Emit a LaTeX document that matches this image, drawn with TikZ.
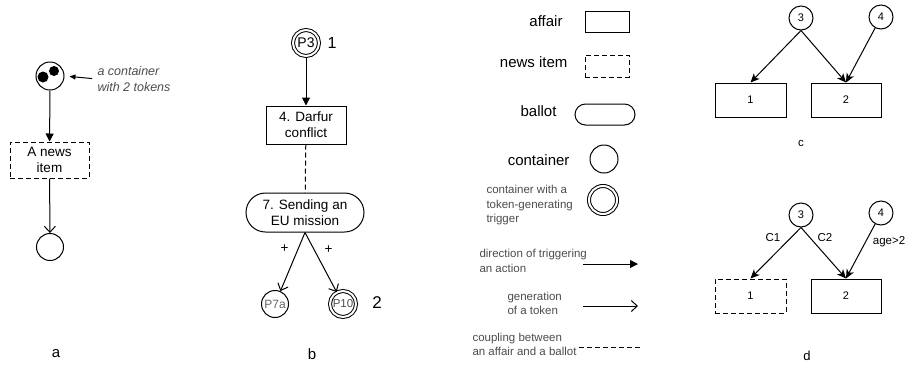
\documentclass[tikz,border=0pt]{standalone}
\usepackage{fontspec}
\setmainfont{Liberation Sans}
\usetikzlibrary{arrows.meta,shapes.misc}
\newcommand{\fsz}[2]{\fontsize{#1}{#2}\selectfont}

\begin{document}
\begin{tikzpicture}[x=1pt, y=-1pt, line width=1pt,
        every node/.style={inner sep=0pt, font=\fsz{13.5}{16}},
        affair/.style={draw, rectangle, align=center},
        newsitem/.style={draw, rectangle, dash pattern=on 5pt off 3pt, align=center},
        ballot/.style={draw, rounded rectangle, align=center},
        container/.style={draw, circle, minimum size=27pt},
        trigcontainer/.style={container, minimum size=26pt, double, double distance=2pt},
        trig/.style={-{Triangle[length=8pt, width=8pt]}},
        gen/.style={-{Straight Barb[length=6pt, width=11pt]}},
        cond/.style={-{Stealth[length=9pt, width=8pt, inset=2.5pt]}},
        coupling/.style={dash pattern=on 5pt off 3pt},
        note/.style={align=left, text=black!70, font=\fsz{11.5}{14.5}}]
        \useasboundingbox (0,0) rectangle (906,365);

        % a
        \node[container, minimum size=28pt] (tokens) at (50,76) {};
        \fill ([shift={(-7,1)}]tokens.center) circle[radius=5.5pt];
        \fill ([shift={(4,-5)}]tokens.center) circle[radius=5pt];
        \node[note, anchor=west, font=\fsz{12.5}{16}\itshape] (hint) at (97,79) {a container\\with 2 tokens};
        \draw[-{Triangle[length=6pt, width=5pt]}, shorten <=5pt, shorten >=5pt] (hint.west) -- (tokens.east);
        \node[newsitem, minimum width=79pt, minimum height=36pt] (news) at (49.5,160) {A news\\item};
        \node[container] (sink) at (50,247) {};
        \draw[trig] (tokens) -- (news);
        \draw[gen] (news) -- (sink);
        \node[font=\fsz{15}{18}] (capa) at (56,354) {a};

        % b
        \node[trigcontainer, font=\fsz{14}{16}] (pthree) at (306,43) {P3};
        \node[font=\fsz{16}{18}] (one) at (332,43) {1};
        \node[affair, minimum width=80pt, minimum height=38pt] (darfur) at (306,125) {4. Darfur\\conflict};
        \node[ballot, minimum width=118pt, minimum height=39pt] (mission) at (305,212.5) {7. Sending an\\EU mission};
        \node[container, font=\fsz{12}{14}, text=black!60] (pseven) at (275,304) {P7a};
        \node[trigcontainer, font=\fsz{11.5}{14}, text=black!70] (pten) at (343,304) {P10};
        \node[font=\fsz{17}{20}] (two) at (377,303) {2};
        \draw[trig] (pthree) -- (darfur);
        \draw[coupling] (darfur) -- (mission);
        \draw[gen] (mission.south) -- node[pos=0.28, left=9pt] {+} (pseven);
        \draw[gen] (mission.south) -- node[pos=0.29, right=10pt] {+} (pten);
        \node[font=\fsz{15}{18}] (capb) at (312,354) {b};

        % legend
        \node[anchor=east, font=\fsz{15}{18}] (laffair) at (563,21) {affair};
        \node[affair, minimum width=44pt, minimum height=21pt] (saffair) at (607,21.5) {};
        \node[anchor=east, font=\fsz{15}{18}] (lnews) at (568,62) {news item};
        \node[newsitem, minimum width=44pt, minimum height=22pt] (snews) at (607,66) {};
        \node[anchor=east, font=\fsz{15}{18}] (lballot) at (557,111) {ballot};
        \node[ballot, minimum width=60pt, minimum height=21pt] (sballot) at (605,114.5) {};
        \node[anchor=east, font=\fsz{15}{18}] (lcont) at (570,160) {container};
        \node[container, minimum size=28pt] (scont) at (604,159) {};
        \node[note, anchor=west] (ltrig) at (486,205.5) {container with a\\token-generating\\trigger};
        \node[trigcontainer, minimum size=28pt] (strig) at (603,200) {};
        \node[note, anchor=west] (ldir) at (479,261) {direction of triggering\\an action};
        \coordinate (dirA) at (583,264);
        \coordinate (dirB) at (638,264);
        \draw[trig] (dirA) -- (dirB);
        \node[note, anchor=west] (lgen) at (507,303.5) {generation\\of a token};
        \coordinate (genA) at (583,306);
        \coordinate (genB) at (638,306);
        \draw[gen] (genA) -- (genB);
        \node[note, anchor=west] (lcoup) at (472,344.5) {coupling between\\an affair and a ballot};
        \coordinate (coupA) at (579,347);
        \coordinate (coupB) at (640,347);
        \draw[coupling] (coupA) -- (coupB);

        % c
        \node[container, minimum size=24pt, font=\fsz{11}{13}] (cthree) at (801,18) {3};
        \node[container, minimum size=24pt, font=\fsz{11}{13}] (cfour) at (881,17) {4};
        \node[affair, minimum width=71pt, minimum height=34pt, font=\fsz{11}{13}] (cone) at (750.5,100) {1};
        \node[affair, minimum width=70pt, minimum height=34pt, font=\fsz{11}{13}] (ctwo) at (846,100) {2};
        \draw[cond] (cthree.south) -- (cone.north);
        \draw[cond] (cthree.south) -- (ctwo.north);
        \draw[cond] (cfour) -- (ctwo.north);
        \node[font=\fsz{11.5}{14}] (capc) at (801,143) {c};

        % d
        \node[container, minimum size=24pt, font=\fsz{11}{13}] (dthree) at (801,215) {3};
        \node[container, minimum size=24pt, font=\fsz{11}{13}] (dfour) at (881,213) {4};
        \node[newsitem, minimum width=71pt, minimum height=34pt, font=\fsz{11}{13}] (done) at (750.5,296) {1};
        \node[affair, minimum width=70pt, minimum height=34pt, font=\fsz{11}{13}] (dtwo) at (846,296) {2};
        \draw[cond] (dthree.south) -- (done.north);
        \draw[cond] (dthree.south) -- (dtwo.north);
        \draw[cond] (dfour) -- (dtwo.north);
        \node[font=\fsz{11.5}{14}] (conelabel) at (773,238) {C1};
        \node[font=\fsz{11.5}{14}] (ctwolabel) at (825,238) {C2};
        \node[font=\fsz{11.5}{14}] (agelabel) at (889,242) {age>2};
        \node[font=\fsz{13}{15}] (capd) at (807,356) {d};
\end{tikzpicture}
\end{document}
